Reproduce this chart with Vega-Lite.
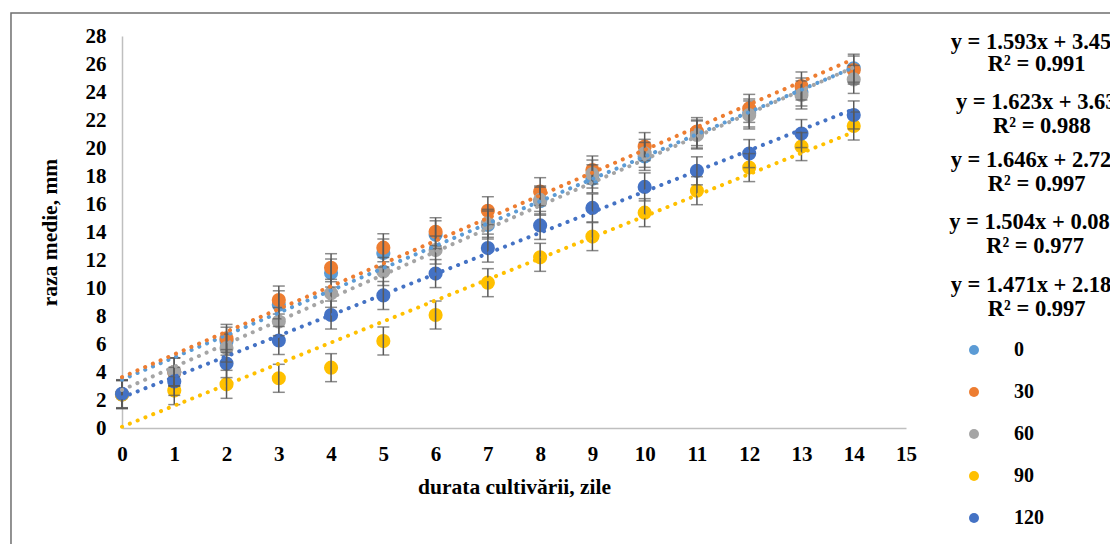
{
  "$schema": "https://vega.github.io/schema/vega-lite/v6.json",
  "width": 784,
  "height": 392,
  "autosize": {"type": "none"},
  "padding": {"left": 122, "top": 36, "right": 204, "bottom": 116},
  "background": "white",
  "config": {
    "view": {"stroke": null},
    "font": "Liberation Serif",
    "axis": {"labelFont": "Liberation Serif", "titleFont": "Liberation Serif", "labelFontWeight": "bold", "titleFontWeight": "bold", "labelColor": "#000000", "titleColor": "#000000", "labelFontSize": 21, "titleFontSize": 21.5, "grid": false, "ticks": false, "domainColor": "#BFBFBF", "domainWidth": 1.5, "labelOverlap": false, "labelFlush": false, "labelBound": false},
    "legend": {"labelFont": "Liberation Serif", "labelFontWeight": "bold", "labelFontSize": 20, "labelColor": "#000000"}
  },
  "datasets": {
    "pts": [
      {"s": "0", "x": 0, "y": 2.4, "e": 1}, {"s": "0", "x": 1, "y": 4.0, "e": 1}, {"s": "0", "x": 2, "y": 6.2, "e": 1}, {"s": "0", "x": 3, "y": 8.8, "e": 1}, {"s": "0", "x": 4, "y": 11.07, "e": 1}, {"s": "0", "x": 5, "y": 12.5, "e": 1}, {"s": "0", "x": 6, "y": 13.8, "e": 1}, {"s": "0", "x": 7, "y": 14.5, "e": 1}, {"s": "0", "x": 8, "y": 16.2, "e": 1}, {"s": "0", "x": 9, "y": 17.8, "e": 1}, {"s": "0", "x": 10, "y": 19.4, "e": 1}, {"s": "0", "x": 11, "y": 21.0, "e": 1}, {"s": "0", "x": 12, "y": 22.5, "e": 1}, {"s": "0", "x": 13, "y": 24.0, "e": 1}, {"s": "0", "x": 14, "y": 25.7, "e": 1},
      {"s": "30", "x": 0, "y": 2.4, "e": 1}, {"s": "30", "x": 1, "y": 4.0, "e": 1}, {"s": "30", "x": 2, "y": 6.4, "e": 1}, {"s": "30", "x": 3, "y": 9.14, "e": 1}, {"s": "30", "x": 4, "y": 11.45, "e": 1}, {"s": "30", "x": 5, "y": 12.88, "e": 1}, {"s": "30", "x": 6, "y": 14.02, "e": 1}, {"s": "30", "x": 7, "y": 15.52, "e": 1}, {"s": "30", "x": 8, "y": 16.88, "e": 1}, {"s": "30", "x": 9, "y": 18.43, "e": 1}, {"s": "30", "x": 10, "y": 20.1, "e": 1}, {"s": "30", "x": 11, "y": 21.17, "e": 1}, {"s": "30", "x": 12, "y": 22.83, "e": 1}, {"s": "30", "x": 13, "y": 24.43, "e": 1}, {"s": "30", "x": 14, "y": 25.57, "e": 1},
      {"s": "60", "x": 0, "y": 2.4, "e": 1}, {"s": "60", "x": 1, "y": 4.02, "e": 1}, {"s": "60", "x": 2, "y": 5.71, "e": 1}, {"s": "60", "x": 3, "y": 7.6, "e": 1}, {"s": "60", "x": 4, "y": 9.62, "e": 1}, {"s": "60", "x": 5, "y": 11.17, "e": 1}, {"s": "60", "x": 6, "y": 12.71, "e": 1}, {"s": "60", "x": 7, "y": 14.62, "e": 1}, {"s": "60", "x": 8, "y": 16.29, "e": 1}, {"s": "60", "x": 9, "y": 18.14, "e": 1}, {"s": "60", "x": 10, "y": 19.62, "e": 1}, {"s": "60", "x": 11, "y": 20.93, "e": 1}, {"s": "60", "x": 12, "y": 22.36, "e": 1}, {"s": "60", "x": 13, "y": 23.79, "e": 1}, {"s": "60", "x": 14, "y": 24.9, "e": 1},
      {"s": "90", "x": 0, "y": 2.4, "e": 1}, {"s": "90", "x": 1, "y": 2.67, "e": 1}, {"s": "90", "x": 2, "y": 3.12, "e": 1}, {"s": "90", "x": 3, "y": 3.55, "e": 1}, {"s": "90", "x": 4, "y": 4.31, "e": 1}, {"s": "90", "x": 5, "y": 6.21, "e": 1}, {"s": "90", "x": 6, "y": 8.07, "e": 1}, {"s": "90", "x": 7, "y": 10.38, "e": 1}, {"s": "90", "x": 8, "y": 12.19, "e": 1}, {"s": "90", "x": 9, "y": 13.67, "e": 1}, {"s": "90", "x": 10, "y": 15.38, "e": 1}, {"s": "90", "x": 11, "y": 16.95, "e": 1}, {"s": "90", "x": 12, "y": 18.6, "e": 1}, {"s": "90", "x": 13, "y": 20.1, "e": 1}, {"s": "90", "x": 14, "y": 21.57, "e": 1},
      {"s": "120", "x": 0, "y": 2.45, "e": 1}, {"s": "120", "x": 1, "y": 3.33, "e": 1}, {"s": "120", "x": 2, "y": 4.6, "e": 1}, {"s": "120", "x": 3, "y": 6.25, "e": 1}, {"s": "120", "x": 4, "y": 8.07, "e": 1}, {"s": "120", "x": 5, "y": 9.47, "e": 1}, {"s": "120", "x": 6, "y": 11.03, "e": 1}, {"s": "120", "x": 7, "y": 12.85, "e": 1}, {"s": "120", "x": 8, "y": 14.47, "e": 1}, {"s": "120", "x": 9, "y": 15.72, "e": 1}, {"s": "120", "x": 10, "y": 17.22, "e": 1}, {"s": "120", "x": 11, "y": 18.37, "e": 1}, {"s": "120", "x": 12, "y": 19.6, "e": 1}, {"s": "120", "x": 13, "y": 21.03, "e": 1}, {"s": "120", "x": 14, "y": 22.36, "e": 1}
    ],
    "trends": [
      {"s": "0", "x0": 0, "y0": 3.455, "x1": 14, "y1": 25.757},
      {"s": "30", "x0": 0, "y0": 3.636, "x1": 14, "y1": 26.358},
      {"s": "60", "x0": 0, "y0": 2.721, "x1": 14, "y1": 25.765},
      {"s": "90", "x0": 0, "y0": 0.088, "x1": 14, "y1": 21.144},
      {"s": "120", "x0": 0, "y0": 2.181, "x1": 14, "y1": 22.775}
    ],
    "labels": [
      {"t": "y = 1.593x + 3.455", "x": 17.5, "y": 27.57},
      {"t": "R² = 0.991", "x": 17.5, "y": 26.0},
      {"t": "y = 1.623x + 3.636", "x": 17.6, "y": 23.29},
      {"t": "R² = 0.988", "x": 17.6, "y": 21.57},
      {"t": "y = 1.646x + 2.721", "x": 17.5, "y": 19.14},
      {"t": "R² = 0.997", "x": 17.5, "y": 17.43},
      {"t": "y = 1.504x + 0.088", "x": 17.47, "y": 14.71},
      {"t": "R² = 0.977", "x": 17.47, "y": 13.0},
      {"t": "y = 1.471x + 2.181", "x": 17.5, "y": 10.21},
      {"t": "R² = 0.997", "x": 17.5, "y": 8.5}
    ]
  },
  "layer": [
    {
      "data": {"values": [{}]},
      "mark": {"type": "rect", "fill": null, "stroke": "#6F6F6F", "strokeWidth": 1.5, "clip": false},
      "encoding": {
        "x": {"datum": -2.124, "type": "quantitative", "scale": {"domain": [0, 15], "nice": false}, "axis": {"values": [0,1,2,3,4,5,6,7,8,9,10,11,12,13,14,15], "title": "durata cultivării, zile", "labelPadding": 15, "titlePadding": 12, "labelOverlap": false}},
        "x2": {"datum": 30},
        "y": {"datum": 29.64, "type": "quantitative", "scale": {"domain": [0, 28], "nice": false}, "axis": {"values": [0,2,4,6,8,10,12,14,16,18,20,22,24,26,28], "title": "raza medie, mm", "labelPadding": 16, "titlePadding": 24, "labelOverlap": false}},
        "y2": {"datum": -20}
      }
    },
    {
      "data": {"name": "pts"},
      "mark": {"type": "point", "filled": true, "opacity": 1, "size": 200},
      "encoding": {
        "x": {"field": "x", "type": "quantitative", "axis": {"values": [0,1,2,3,4,5,6,7,8,9,10,11,12,13,14,15], "title": "durata cultivării, zile", "labelPadding": 15, "titlePadding": 12, "labelOverlap": false}},
        "y": {"field": "y", "type": "quantitative", "axis": {"values": [0,2,4,6,8,10,12,14,16,18,20,22,24,26,28], "title": "raza medie, mm", "labelPadding": 16, "titlePadding": 24, "labelOverlap": false}},
        "color": {"field": "s", "type": "nominal", "scale": {"domain": ["0", "30", "60", "90", "120"], "range": ["#5B9BD5", "#ED7D31", "#A5A5A5", "#FFC000", "#4472C4"]}, "legend": {"title": null, "orient": "none", "legendX": 842, "legendY": 304, "symbolType": "circle", "symbolSize": 100, "symbolStrokeWidth": 0, "labelOffset": 30, "rowPadding": 22, "padding": 0}}
      }
    },
    {
      "data": {"name": "pts"},
      "mark": {"type": "errorbar", "ticks": {"size": 12, "color": "#595959", "thickness": 1.5}, "rule": {"color": "#595959", "strokeWidth": 1.5}},
      "encoding": {
        "x": {"field": "x", "type": "quantitative", "axis": {"values": [0,1,2,3,4,5,6,7,8,9,10,11,12,13,14,15], "title": "durata cultivării, zile", "labelPadding": 15, "titlePadding": 12, "labelOverlap": false}},
        "y": {"field": "y", "type": "quantitative", "axis": {"values": [0,2,4,6,8,10,12,14,16,18,20,22,24,26,28], "title": "raza medie, mm", "labelPadding": 16, "titlePadding": 24, "labelOverlap": false}},
        "yError": {"field": "e"}
      }
    },
    {
      "data": {"name": "trends"},
      "mark": {"type": "rule", "strokeDash": [0.1, 8.3], "strokeCap": "round", "strokeWidth": 4},
      "encoding": {
        "x": {"field": "x0", "type": "quantitative", "axis": {"values": [0,1,2,3,4,5,6,7,8,9,10,11,12,13,14,15], "title": "durata cultivării, zile", "labelPadding": 15, "titlePadding": 12, "labelOverlap": false}},
        "y": {"field": "y0", "type": "quantitative", "axis": {"values": [0,2,4,6,8,10,12,14,16,18,20,22,24,26,28], "title": "raza medie, mm", "labelPadding": 16, "titlePadding": 24, "labelOverlap": false}},
        "x2": {"field": "x1"},
        "y2": {"field": "y1"},
        "color": {"field": "s", "type": "nominal", "legend": null}
      }
    },
    {
      "data": {"name": "labels"},
      "mark": {"type": "text", "font": "Liberation Serif", "fontWeight": "bold", "fontSize": 22.5, "align": "center", "baseline": "middle", "clip": false, "color": "#000000"},
      "encoding": {
        "x": {"field": "x", "type": "quantitative", "axis": {"values": [0,1,2,3,4,5,6,7,8,9,10,11,12,13,14,15], "title": "durata cultivării, zile", "labelPadding": 15, "titlePadding": 12, "labelOverlap": false}},
        "y": {"field": "y", "type": "quantitative", "axis": {"values": [0,2,4,6,8,10,12,14,16,18,20,22,24,26,28], "title": "raza medie, mm", "labelPadding": 16, "titlePadding": 24, "labelOverlap": false}},
        "text": {"field": "t"}
      }
    }
  ]
}
